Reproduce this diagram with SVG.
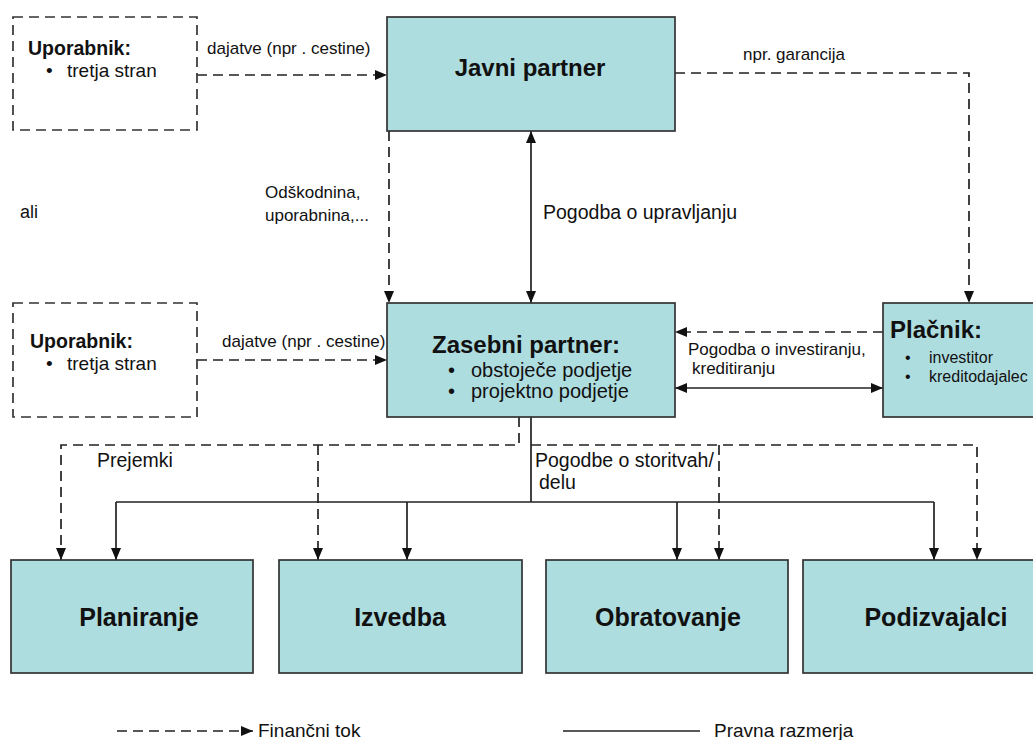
<svg xmlns="http://www.w3.org/2000/svg" width="1033" height="740" viewBox="0 0 1033 740">
  <defs>
    <marker id="arr" viewBox="0 0 12 10" refX="12" refY="5" markerWidth="12" markerHeight="10" markerUnits="userSpaceOnUse" orient="auto-start-reverse">
      <path d="M0,0 L12,5 L0,10 z" fill="#111" stroke="none"/>
    </marker>
  </defs>
  <style>
    text { font-family: "Liberation Sans", Arial, sans-serif; fill: #111; }
    .box { fill: #aedde0; stroke: #333; stroke-width: 1.7; }
    .dbox { fill: none; stroke: #333; stroke-width: 1.7; stroke-dasharray: 10 6; }
    .flow { fill: none; stroke: #222; stroke-width: 1.7; stroke-dasharray: 10 6; }
    .legal { fill: none; stroke: #222; stroke-width: 1.7; }
    .big { font-size: 24px; font-weight: bold; }
    .head { font-size: 19.5px; font-weight: bold; }
    .lbl { font-size: 17px; }
    .lbl2 { font-size: 19.5px; }
    .bot { font-size: 25px; font-weight: bold; text-anchor: middle; }
  </style>

  <!-- connectors -->
  <g id="connectors">
    <path class="flow" d="M197,75 H387" marker-end="url(#arr)"/>
    <path class="flow" d="M197,360 H387" marker-end="url(#arr)"/>
    <path class="flow" d="M675,73 H969 V303" marker-end="url(#arr)"/>
    <path class="flow" d="M389,131 V303" marker-end="url(#arr)"/>
    <path class="legal" d="M531,131 V303" marker-start="url(#arr)" marker-end="url(#arr)"/>
    <path class="flow" d="M883,332 H675" marker-end="url(#arr)"/>
    <path class="legal" d="M675,388 H883" marker-start="url(#arr)" marker-end="url(#arr)"/>

    <path class="flow" d="M519,417 V445 H61 V560" marker-end="url(#arr)"/>
    <path class="flow" d="M531,445 H977 V560" marker-end="url(#arr)"/>
    <path class="flow" d="M318,445 V560" marker-end="url(#arr)"/>
    <path class="flow" d="M719,445 V560" marker-end="url(#arr)"/>

    <path class="legal" d="M531,417 V502"/>
    <path class="legal" d="M116,502 H934"/>
    <path class="legal" d="M116,502 V560" marker-end="url(#arr)"/>
    <path class="legal" d="M407,502 V560" marker-end="url(#arr)"/>
    <path class="legal" d="M677,502 V560" marker-end="url(#arr)"/>
    <path class="legal" d="M934,502 V560" marker-end="url(#arr)"/>

    <text class="lbl" x="207" y="54">dajatve (npr . cestine)</text>
    <text class="lbl" x="222" y="347">dajatve (npr . cestine)</text>
    <text class="lbl" x="743" y="60">npr. garancija</text>
    <text class="lbl" x="265" y="198">Odškodnina,</text>
    <text class="lbl" x="265" y="221">uporabnina,...</text>
    <text class="lbl2" x="543" y="219">Pogodba o upravljanju</text>
    <text class="lbl" x="688" y="355">Pogodba o investiranju,</text>
    <text class="lbl" x="692" y="374">kreditiranju</text>
    <text class="lbl2" x="97" y="467">Prejemki</text>
    <text class="lbl2" x="535" y="467">Pogodbe o storitvah/</text>
    <text class="lbl2" x="539" y="489">delu</text>
  </g>

  <text class="lbl2" x="20" y="218" style="font-size:18px">ali</text>

  <!-- third-party user, upper -->
  <g id="uporabnik-1">
    <rect class="dbox" x="13" y="17" width="184" height="113"/>
    <text class="head" x="28" y="55">Uporabnik:</text>
    <text class="lbl2" x="46" y="77" style="font-size:19px">•</text>
    <text class="lbl2" x="67" y="77" style="font-size:19px">tretja stran</text>
  </g>

  <!-- third-party user, lower -->
  <g id="uporabnik-2">
    <rect class="dbox" x="13" y="303" width="184" height="114"/>
    <text class="head" x="30" y="348">Uporabnik:</text>
    <text class="lbl2" x="46" y="370" style="font-size:19px">•</text>
    <text class="lbl2" x="67" y="370" style="font-size:19px">tretja stran</text>
  </g>

  <g id="javni-partner">
    <rect class="box" x="387" y="17" width="288" height="114"/>
    <text class="big" x="530" y="76" text-anchor="middle">Javni partner</text>
  </g>

  <g id="zasebni-partner">
    <rect class="box" x="387" y="303" width="288" height="114"/>
    <text class="big" x="432" y="353">Zasebni partner:</text>
    <text style="font-size:20px" x="448" y="377">•</text>
    <text style="font-size:20px" x="471" y="377">obstoječe podjetje</text>
    <text style="font-size:20px" x="448" y="398">•</text>
    <text style="font-size:20px" x="471" y="398">projektno podjetje</text>
  </g>

  <g id="placnik">
    <rect class="box" x="883" y="303" width="160" height="114"/>
    <text class="big" x="890" y="338">Plačnik:</text>
    <text style="font-size:16px" x="905" y="363">•</text>
    <text style="font-size:16px" x="929" y="363">investitor</text>
    <text style="font-size:16px" x="905" y="382">•</text>
    <text style="font-size:16px" x="929" y="382">kreditodajalec</text>
  </g>

  <g id="planiranje">
    <rect class="box" x="11" y="560" width="242" height="113"/>
    <text class="bot" x="139" y="626">Planiranje</text>
  </g>
  <g id="izvedba">
    <rect class="box" x="279" y="560" width="243" height="113"/>
    <text class="bot" x="400" y="626">Izvedba</text>
  </g>
  <g id="obratovanje">
    <rect class="box" x="546" y="560" width="242" height="113"/>
    <text class="bot" x="668" y="626">Obratovanje</text>
  </g>
  <g id="podizvajalci">
    <rect class="box" x="803" y="560" width="242" height="113"/>
    <text class="bot" x="936" y="626">Podizvajalci</text>
  </g>

  <!-- legend -->
  <g id="legend">
    <path class="flow" d="M117,731 H253" marker-end="url(#arr)"/>
    <text class="lbl2" x="258" y="737" style="font-size:19px">Finančni tok</text>
    <path class="legal" d="M563,731 H700"/>
    <text class="lbl2" x="714" y="737" style="font-size:19px">Pravna razmerja</text>
  </g>
</svg>
